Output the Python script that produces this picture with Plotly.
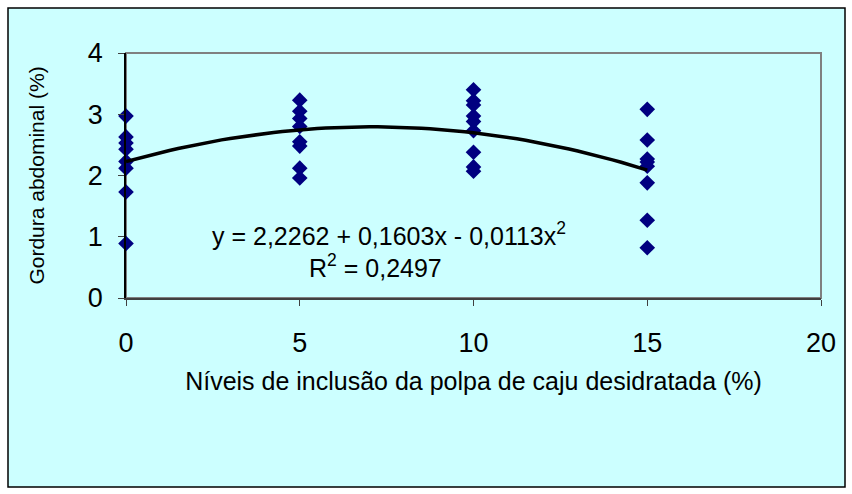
import numpy as np
import plotly.graph_objects as go

# Data
x_levels = [0, 5, 10, 15]
y_0 = [2.97, 2.63, 2.53, 2.43, 2.23, 2.12, 1.73, 0.89]
y_5 = [3.23, 3.05, 2.93, 2.80, 2.55, 2.48, 2.12, 1.96]
y_10 = [3.40, 3.22, 3.15, 2.97, 2.88, 2.73, 2.38, 2.14, 2.07]
y_15 = [3.08, 2.58, 2.27, 2.22, 2.15, 1.88, 1.27, 0.82]

# Trend equation shown on chart: y = a + b x + c x^2
trend_coef = [2.2262, 0.1603, -0.0113]
trend_range = [0, 15]

x_ticks = [0, 5, 10, 15, 20]
y_ticks = [0, 1, 2, 3, 4]

xs, ys = [], []
for xv, arr in zip(x_levels, [y_0, y_5, y_10, y_15]):
    xs += [xv] * len(arr)
    ys += arr

xt = np.linspace(trend_range[0], trend_range[1], 61)
yt = trend_coef[0] + trend_coef[1] * xt + trend_coef[2] * xt ** 2

fig = go.Figure()
fig.add_trace(go.Scatter(x=xs, y=ys, mode="markers",
                         marker=dict(symbol="diamond", size=12, color="#000080",
                                     line=dict(width=0)),
                         showlegend=False, cliponaxis=False))
fig.add_trace(go.Scatter(x=xt, y=yt, mode="lines",
                         line=dict(color="black", width=3.5),
                         showlegend=False))

W, H = 852, 494
L, R, T, B = 126, 821, 53, 298
pw, ph = R - L, B - T

def px(xp):
    return (xp - L) / pw

def py(yp):
    return (B - yp) / ph

font = "Liberation Sans, Arial, sans-serif"

fig.update_layout(
    width=W, height=H,
    margin=dict(l=L, r=W - R, t=T, b=H - B),
    paper_bgcolor="white",
    plot_bgcolor="#CCFFFF",
    font=dict(family=font, color="black"),
    xaxis=dict(range=[0, 20], tickvals=x_ticks, showgrid=False, zeroline=False,
               showline=True, linecolor="#404040", linewidth=2,
               ticks="outside", ticklen=6, tickcolor="#404040", tickwidth=1,
               tickfont=dict(size=27), ticklabelstandoff=14,
               title=dict(text="Níveis de inclusão da polpa de caju desidratada (%)",
                          font=dict(size=25), standoff=15)),
    yaxis=dict(range=[0, 4], tickvals=y_ticks, showgrid=False, zeroline=False,
               showline=True, linecolor="black", linewidth=1.5,
               ticks="outside", ticklen=6, tickcolor="#404040", tickwidth=1,
               tickfont=dict(size=27), ticklabelstandoff=10,
               title=dict(text="Gordura abdominal (%)", font=dict(size=21), standoff=37)),
    shapes=[
        dict(type="rect", xref="paper", yref="paper",
             x0=px(8), x1=px(845), y0=py(487), y1=py(8),
             fillcolor="#CCFFFF", line=dict(color="black", width=1.5), layer="below"),
        dict(type="rect", xref="paper", yref="paper",
             x0=0, x1=1, y0=0, y1=1,
             fillcolor="rgba(0,0,0,0)", line=dict(color="#808080", width=2), layer="below"),
    ],
    annotations=[
        dict(text="y = 2,2262 + 0,1603x - 0,0113x<sup>2</sup>", x=px(389), y=py(234),
             xref="paper", yref="paper", xanchor="center", yanchor="middle",
             showarrow=False, font=dict(size=25)),
        dict(text="R<sup>2</sup> = 0,2497", x=px(375), y=py(266),
             xref="paper", yref="paper", xanchor="center", yanchor="middle",
             showarrow=False, font=dict(size=25)),
    ],
)

fig.write_html("out.html")
